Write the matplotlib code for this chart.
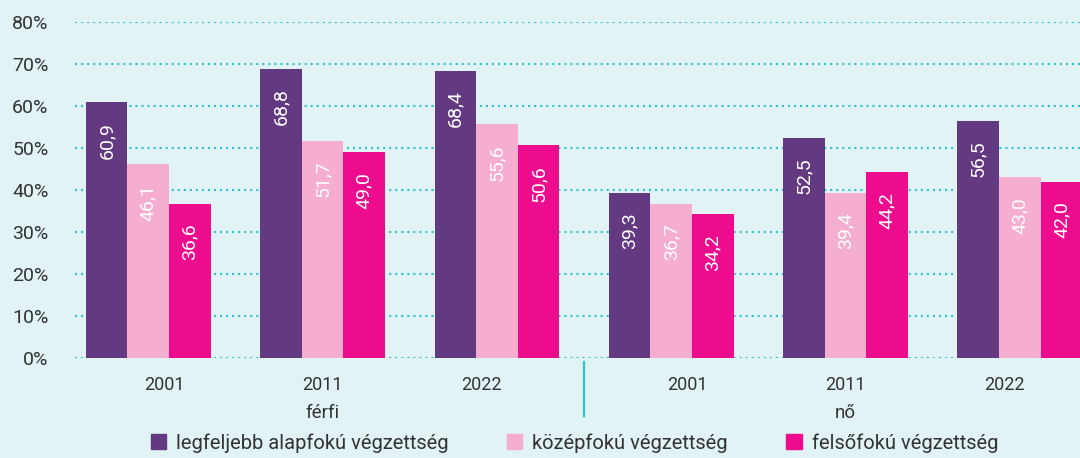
import numpy as np
import matplotlib.pyplot as plt
from matplotlib.patches import Patch
import matplotlib.transforms as mtransforms

plt.rcParams['font.family'] = ['Roboto', 'DejaVu Sans']

# data
years = ['2001', '2011', '2022']
groups = ['férfi', 'nő']
series = ['legfeljebb alapfokú végzettség', 'középfokú végzettség', 'felsőfokú végzettség']
alap = [60.9, 68.8, 68.4, 39.3, 52.5, 56.5]
kozep = [46.1, 51.7, 55.6, 36.7, 39.4, 43.0]
felso = [36.6, 49.0, 50.6, 34.2, 44.2, 42.0]
yticks = [0, 10, 20, 30, 40, 50, 60, 70, 80]

colors = ['#633a82', '#f5aed0', '#ee0c8e']
bg = '#e1f3f5'
grid_c = '#2bc3d0'
text_c = '#333333'

fig = plt.figure(figsize=(10.8, 4.58), dpi=100, facecolor=bg)
ax = fig.add_axes([75 / 1080, 100 / 458, 1005 / 1080, 336 / 458])
ax.set_facecolor(bg)

x = np.arange(len(alap))
w = 0.2385
for k, (vals, col) in enumerate(zip([alap, kozep, felso], colors)):
    bars = ax.bar(x + (k - 1) * w, vals, width=w, color=col, label=series[k], zorder=2)
    for b, v in zip(bars, vals):
        ax.annotate(f"{v:.1f}".replace('.', ','),
                    (b.get_x() + b.get_width() / 2, v),
                    xytext=(0, -14), textcoords='offset points',
                    rotation=90, ha='center', va='top', color='white',
                    fontsize=14, zorder=3)

ax.set_xlim(-0.42, 5.345)
ax.set_ylim(0, 80)
ax.set_yticks(yticks)
ax.set_yticklabels([f"{t}%" for t in yticks])

# year labels sit slightly closer to the middle of each group
mids = [1, 4]
tick_pos = [m + (i - 1) * 0.91 for m in mids for i in range(3)]
ax.set_xticks(tick_pos)
ax.set_xticklabels(years * 2)

ax.tick_params(axis='both', length=0, labelcolor=text_c)
ax.tick_params(axis='y', pad=19, labelsize=14)
ax.tick_params(axis='x', pad=13, labelsize=13)
for s in ax.spines.values():
    s.set_visible(False)

ax.set_axisbelow(True)
ax.yaxis.grid(True, color=grid_c, linewidth=1.5, linestyle=(0, (1, 1.9)))

trans = mtransforms.blended_transform_factory(ax.transData, ax.transAxes)
for m, g in zip(mids, groups):
    ax.text(m, -0.164, g, transform=trans, ha='center', va='center',
            fontsize=13.5, color=text_c)
ax.plot([2.5, 2.5], [-0.012, -0.173], transform=trans, color=grid_c,
        linewidth=1.6, clip_on=False)

handles = [Patch(color=c) for c in colors]
fig.legend(handles, series, loc='center', bbox_to_anchor=(0.532, 0.033), ncol=3,
           frameon=False, fontsize=14.5, handlelength=0.75, handleheight=0.75,
           handletextpad=0.5, columnspacing=2.9, labelcolor=text_c)

fig.savefig('out.png', dpi=100, facecolor=bg)
